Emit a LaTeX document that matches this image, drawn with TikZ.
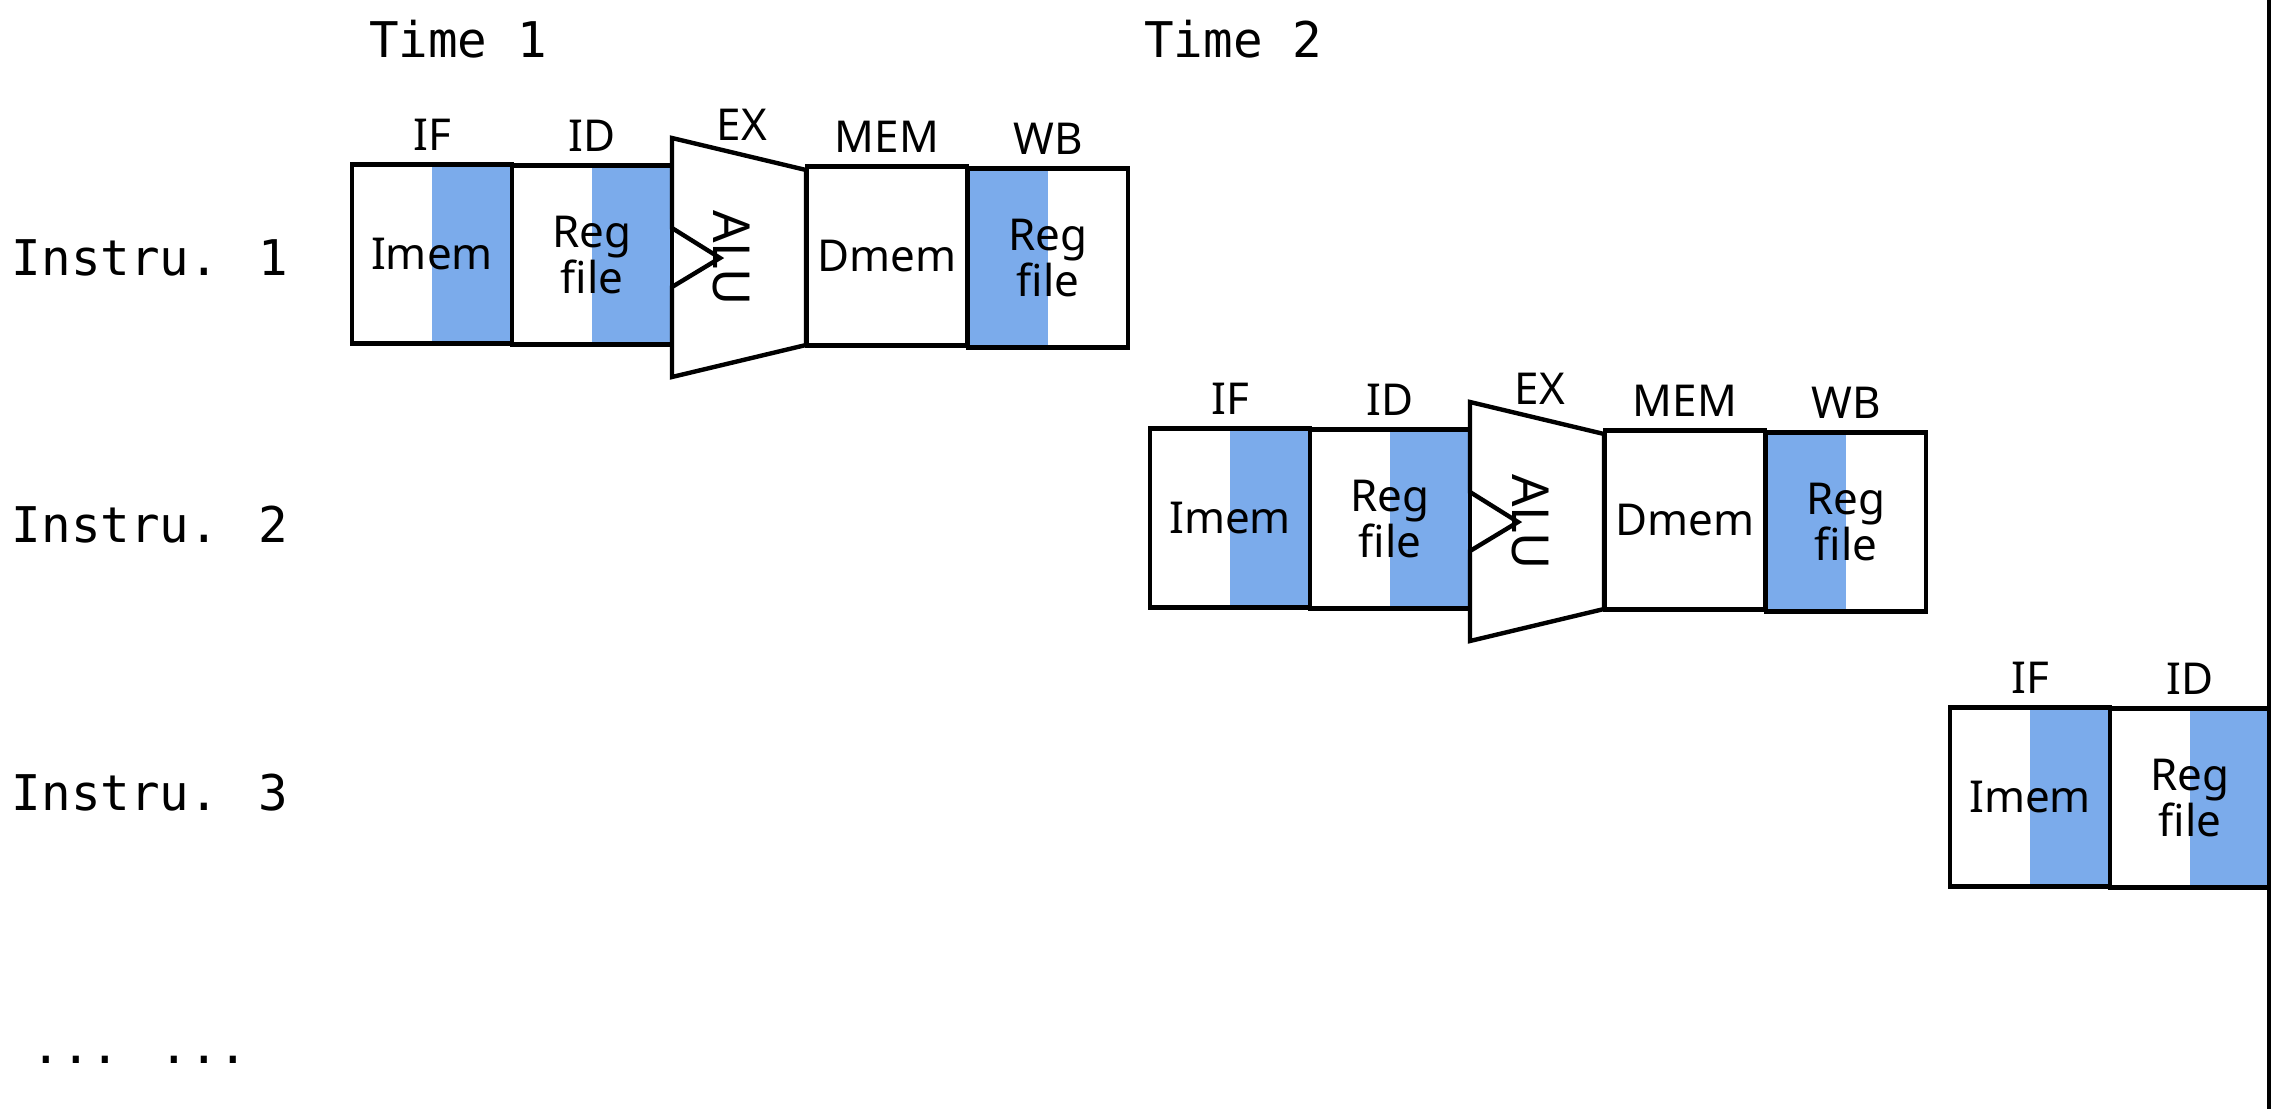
\documentclass[tikz,border=0pt]{standalone}
\usepackage{fontspec}
\setmainfont{Noto Sans}
\newfontfamily\monofont{DejaVu Sans Mono}
\usetikzlibrary{positioning}
\definecolor{stageblue}{HTML}{7BABEB}
\tikzset{
  x=0.02cm, y=-0.02cm,
  every node/.style = {font=\fontsize{25}{26}\selectfont},
  box/.style = {draw, line width=2.5pt, minimum width=3.2cm, minimum height=3.58cm,
    align=center, inner sep=0pt},
  blueright/.style = {box, path picture={\fill[stageblue] (path picture bounding box.north)
    rectangle (path picture bounding box.south east);}},
  blueleft/.style = {box, path picture={\fill[stageblue] (path picture bounding box.north west)
    rectangle (path picture bounding box.south);}},
  stage/.style = {above=3pt},
  rowlabel/.style = {font=\monofont\fontsize{28}{30}\selectfont},
}
% one pipeline row: #1 prefix, #2 x shift, #3 y shift
\newcommand{\pipeline}[3]{
  \begin{scope}[shift={(#2,#3)}]
    \node [blueright] (#1if) at (432,254) {Imem};
    \node [blueright] (#1id) at (592,255) {Reg\\file};
    \draw [line width=2.5pt, fill=white] (672,228) -- (672,138) -- (806,170) -- (806,345)
      -- (672,377) -- (672,287) -- (720,258) -- cycle;
    \node [rotate=-90, font=\fontsize{29}{30}\selectfont] (#1alu) at (732,258) {ALU};
    \node [box] (#1mem) at (887,256) {Dmem};
    \node [blueleft] (#1wb) at (1048,258) {Reg\\file};
    \node [stage] at (#1if.north) {IF};
    \node [stage] at (#1id.north) {ID};
    \node [anchor=base] at (742,140) {EX};
    \node [stage] at (#1mem.north) {MEM};
    \node [stage] at (#1wb.north) {WB};
  \end{scope}
}

\begin{document}
\begin{tikzpicture}
  \useasboundingbox (0,0) rectangle (2272,1109);
  \node [rowlabel] (t1) at (458,39) {Time 1};
  \node [rowlabel] (t2) at (1233,39) {Time 2};
  \node [rowlabel] (i1) at (150,258) {Instru. 1};
  \node [rowlabel] (i2) at (150,525) {Instru. 2};
  \node [rowlabel] (i3) at (150,793) {Instru. 3};
  \node [rowlabel] (dots) at (140,1060) {... ...};
  \begin{scope}
    \clip (0,0) rectangle (2267,1109);
    \pipeline{a}{0}{0}
    \pipeline{b}{798}{264}
    \pipeline{c}{1598}{543}
  \end{scope}
  \draw [line width=2.5pt] (2269,0) -- (2269,1109);
\end{tikzpicture}
\end{document}
